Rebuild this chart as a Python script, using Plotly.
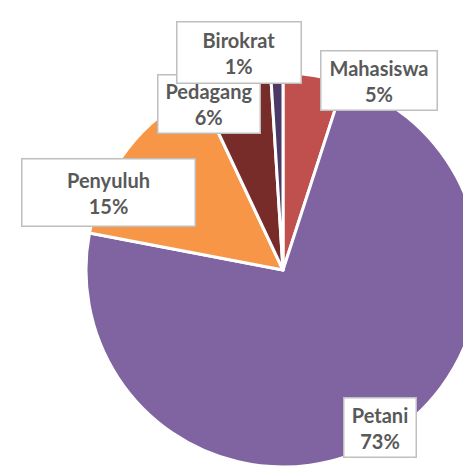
import plotly.graph_objects as go

labels = ["Mahasiswa", "Petani", "Penyuluh", "Pedagang", "Birokrat"]
values = [5, 73, 15, 6, 1]
colors = ["#C0504D", "#8064A2", "#F79646", "#772C2A", "#4B3A68"]

W, H = 490, 468

fig = go.Figure(go.Pie(
    labels=labels, values=values, sort=False, direction="clockwise", rotation=0,
    marker=dict(colors=colors, line=dict(color="white", width=3)),
    textinfo="none", hoverinfo="label+percent", showlegend=False,
    domain=dict(x=[86 / W, 480 / W], y=[1 / H, 395 / H]),
))

# label box positions (pixel centers) and sizes
boxes = {
    "Pedagang": (208.5, 104.5, 97, 53),
    "Birokrat": (238.5, 52, 119, 56),
    "Mahasiswa": (378.5, 80, 111, 54),
    "Penyuluh": (108.5, 192, 168, 62),
    "Petani": (379.5, 427, 67, 54),
}
total = sum(values)
order = ["Pedagang", "Birokrat", "Mahasiswa", "Penyuluh", "Petani"]
for name in order:
    v = values[labels.index(name)]
    cx, cy, bw, bh = boxes[name]
    fig.add_annotation(
        x=cx / W, y=1 - cy / H, xref="paper", yref="paper",
        xanchor="center", yanchor="middle",
        text=f"<b>{name}<br>{round(100 * v / total)}%</b>",
        showarrow=False, align="center", valign="middle",
        width=bw, height=bh, borderpad=2,
        bgcolor="white", bordercolor="#BFBFBF", borderwidth=1.5,
        font=dict(family="Lato", size=20, color="#595959"),
    )

fig.update_layout(
    width=W, height=H, margin=dict(l=0, r=0, t=0, b=0),
    paper_bgcolor="white", plot_bgcolor="white",
)

fig.write_html("out.html", config={"displayModeBar": False},
               post_script="document.body.style.margin='0';document.body.style.overflow='hidden';")
